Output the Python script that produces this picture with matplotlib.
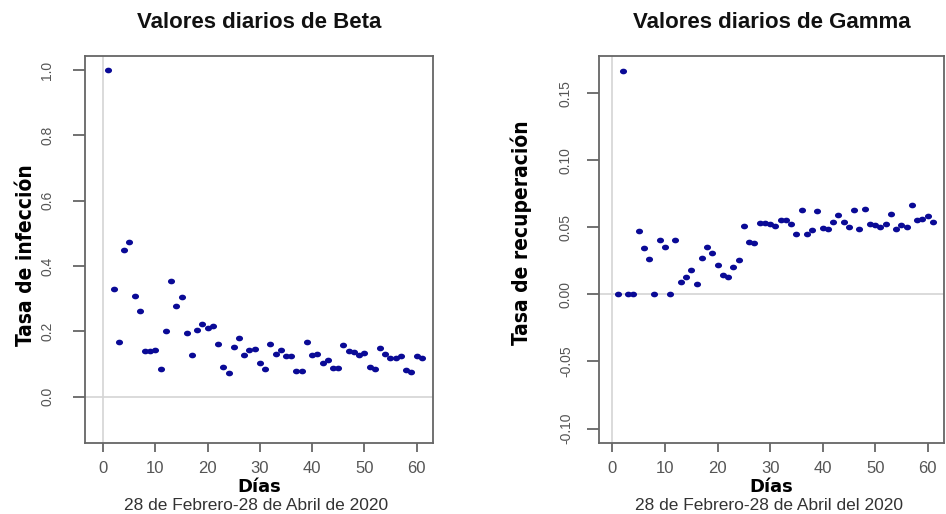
import numpy as np
import matplotlib
matplotlib.use("Agg")
import matplotlib.pyplot as plt

# Daily estimates of the SIR parameters, 28 Feb - 28 Apr 2020
dias = np.arange(1, 62)

beta = [1.0, 0.331, 0.168, 0.450, 0.473, 0.307, 0.261, 0.140, 0.141, 0.143,
        0.085, 0.202, 0.354, 0.276, 0.305, 0.194, 0.126, 0.205, 0.223, 0.210,
        0.216, 0.160, 0.092, 0.073, 0.152, 0.178, 0.126, 0.143, 0.147, 0.103,
        0.084, 0.160, 0.132, 0.143, 0.124, 0.124, 0.079, 0.079, 0.168, 0.126,
        0.132, 0.103, 0.113, 0.089, 0.089, 0.157, 0.140, 0.137, 0.126, 0.135,
        0.092, 0.084, 0.148, 0.132, 0.118, 0.118, 0.124, 0.081, 0.076, 0.125,
        0.118]

gamma = [0.0, 0.1667, 0.0, 0.0, 0.0476, 0.0343, 0.0264, 0.0, 0.0403, 0.0356,
         0.0, 0.0408, 0.0092, 0.0132, 0.0184, 0.0078, 0.0269, 0.0356, 0.0311, 0.0217,
         0.0145, 0.0130, 0.0204, 0.0256, 0.0511, 0.0390, 0.0383, 0.0535, 0.0535, 0.0526,
         0.0511, 0.0556, 0.0556, 0.0523, 0.0450, 0.0629, 0.0450, 0.0481, 0.0621, 0.0494,
         0.0489, 0.0543, 0.0590, 0.0542, 0.0503, 0.0629, 0.0491, 0.0636, 0.0525, 0.0514,
         0.0506, 0.0528, 0.0598, 0.0491, 0.0518, 0.0502, 0.0664, 0.0555, 0.0560, 0.0588,
         0.0543]

x_ticks = [0, 10, 20, 30, 40, 50, 60]
beta_ticks = [0.0, 0.2, 0.4, 0.6, 0.8, 1.0]
gamma_ticks = [-0.10, -0.05, 0.00, 0.05, 0.10, 0.15]

W, H = 946, 514
fig = plt.figure(figsize=(W / 100, H / 100), dpi=100)

# slightly wide dot, like the stretched R output
t = np.linspace(0, 2 * np.pi, 40)
dot = np.column_stack([1.25 * np.cos(t), np.sin(t)])

sans = ["Liberation Sans", "DejaVu Sans"]
grey = "#555555"


def panel(box, y, yticks, ylabels, xlim, ylim, ypad, title, ylabel, ylab_xy, sub):
    l, t_, r, b = box
    ax = fig.add_axes([l / W, 1 - b / H, (r - l) / W, (b - t_) / H])
    ax.axhline(0, color="#d4d4d4", lw=1.2, zorder=1)
    ax.axvline(0, color="#d4d4d4", lw=1.2, zorder=1)
    ax.scatter(dias, y, marker=dot, s=26, color="#0a0a96", lw=0, zorder=3)
    ax.set_xlim(*xlim)
    ax.set_ylim(*ylim)
    ax.set_xticks(x_ticks)
    ax.set_yticks(yticks)
    ax.set_yticklabels(ylabels, rotation=90, va="center")
    for s in ax.spines.values():
        s.set_color("#666666")
        s.set_linewidth(1.3)
    ax.tick_params(axis="x", length=6.5, width=1.3, color="#666666", pad=6.5,
                   labelsize=12, labelcolor=grey)
    ax.tick_params(axis="y", length=8.5, width=1.3, color="#666666", pad=ypad,
                   labelsize=10, labelcolor=grey)
    for lab in ax.get_xticklabels() + ax.get_yticklabels():
        lab.set_family(sans)

    cx = (l + r) / 2
    fig.text(cx / W, 1 - 23 / H, title, ha="center", va="center",
             fontsize=16, fontweight="bold", family=sans, color="#111111")
    fig.text(cx / W, 1 - 487 / H, "Días", ha="center", va="center",
             fontsize=13, fontweight="bold", family="DejaVu Sans", color="black")
    fig.text((cx - 3) / W, 1 - 505 / H, sub, ha="center", va="center",
             fontsize=12.5, family=sans, color="#333333")
    fig.text(ylab_xy[0] / W, 1 - ylab_xy[1] / H, ylabel, rotation=90,
             ha="center", va="center", fontsize=15, fontweight="bold",
             fontstretch="condensed", family=["DejaVu Sans"], color="black")
    return ax


panel((85, 55.7, 432.7, 443.3), beta, beta_ticks,
      ["0.0", "0.2", "0.4", "0.6", "0.8", "1.0"],
      (-3.5, 63.1), (-0.143, 1.044), 13.5,
      "Valores diarios de Beta", "Tasa de infección", (26, 255),
      "28 de Febrero-28 de Abril de 2020")

panel((599.3, 55.7, 944, 443.3), gamma, gamma_ticks,
      ["-0.10", "-0.05", "0.00", "0.05", "0.10", "0.15"],
      (-2.5, 63.1), (-0.111, 0.178), 10.5,
      "Valores diarios de Gamma", "Tasa de recuperación", (521, 233),
      "28 de Febrero-28 de Abril del 2020")

fig.savefig("out.png", dpi=100)
